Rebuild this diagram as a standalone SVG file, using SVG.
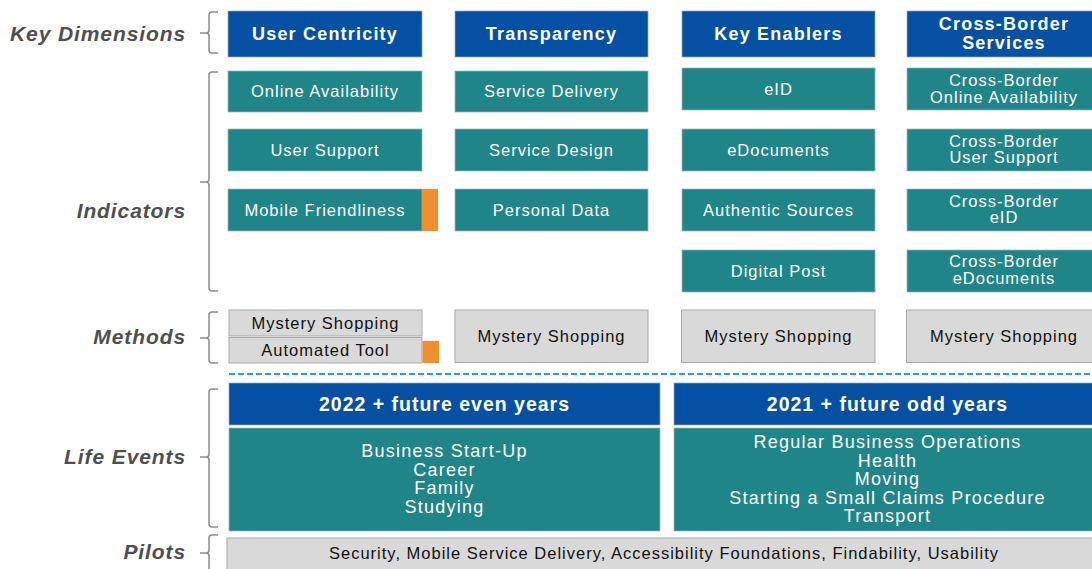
<svg xmlns="http://www.w3.org/2000/svg" width="1092" height="569" viewBox="0 0 1092 569">
<style>
.bg{fill:#ffffff}
.blue{fill:#0550A3;stroke:#9aa7b8;stroke-width:0.75}
.teal{fill:#1F8588;stroke:#9fb3b3;stroke-width:0.75}
.gray{fill:#D9D9D9;stroke:#A9A9A9;stroke-width:1}
.orange{fill:#EF8F2F}
.lbl{font-family:"Liberation Sans",Arial,sans-serif;font-weight:bold;font-style:italic;font-size:21px;fill:#4F4F4F;text-anchor:end;letter-spacing:0.9px}
.kd{font-family:"Liberation Sans",Arial,sans-serif;font-weight:bold;font-size:18px;fill:#ffffff;text-anchor:middle;letter-spacing:1.2px}
.leh{font-family:"Liberation Sans",Arial,sans-serif;font-weight:bold;font-size:19.5px;fill:#ffffff;text-anchor:middle;letter-spacing:1px}
.ind{font-family:"Liberation Sans",Arial,sans-serif;font-size:16.5px;fill:#ffffff;text-anchor:middle;letter-spacing:1px}
.meth{font-family:"Liberation Sans",Arial,sans-serif;font-size:16.5px;fill:#111111;text-anchor:middle;letter-spacing:1px}
.le{font-family:"Liberation Sans",Arial,sans-serif;font-size:18px;fill:#ffffff;text-anchor:middle;letter-spacing:1.25px}
.brk{fill:none;stroke:#8C8C8C;stroke-width:1.5}
.dash{stroke:#2A9FCC;stroke-width:2;stroke-dasharray:6 3}
</style>
<rect class="bg" x="0" y="0" width="1092" height="569"/>

<g id="labels">
<text class="lbl" x="186" y="41">Key Dimensions</text>
<text class="lbl" x="186" y="218">Indicators</text>
<text class="lbl" x="186" y="344">Methods</text>
<text class="lbl" x="186" y="464">Life Events</text>
<text class="lbl" x="186" y="559">Pilots</text>
</g>

<g id="brackets">
<path class="brk" d="M218,12 H212 Q209,12 209,15 V30 Q209,33 206,33 H200 M206,33 Q209,33 209,36 V50 Q209,53 212,53 H218"/>
<path class="brk" d="M218,72 H212 Q209,72 209,75 V179 Q209,182 206,182 H200 M206,182 Q209,182 209,185 V288 Q209,291 212,291 H218"/>
<path class="brk" d="M218,312 H212 Q209,312 209,315 V335 Q209,338 206,338 H200 M206,338 Q209,338 209,341 V360 Q209,363 212,363 H218"/>
<path class="brk" d="M218,389 H212 Q209,389 209,392 V454 Q209,457 206,457 H200 M206,457 Q209,457 209,460 V524 Q209,527 212,527 H218"/>
<path class="brk" d="M218,535 H212 Q209,535 209,538 V550 Q209,553 206,553 H200 M206,553 Q209,553 209,556 V575"/>
</g>

<g id="key-dimensions">
<g id="kd-user-centricity"><rect class="blue" x="228" y="11" width="194" height="46"/><text class="kd" x="325" y="39.5">User Centricity</text></g>
<g id="kd-transparency"><rect class="blue" x="455" y="11" width="193" height="46"/><text class="kd" x="551.5" y="39.5">Transparency</text></g>
<g id="kd-key-enablers"><rect class="blue" x="682" y="11" width="193" height="46"/><text class="kd" x="778.5" y="39.5">Key Enablers</text></g>
<g id="kd-cross-border"><rect class="blue" x="907" y="11" width="194" height="46"/><text class="kd" x="1004" y="29.5">Cross-Border</text><text class="kd" x="1004" y="48.5">Services</text></g>
</g>

<g id="indicators">
<g id="ind-online-availability"><rect class="teal" x="228" y="71" width="194" height="41"/><text class="ind" x="325" y="97">Online Availability</text></g>
<g id="ind-user-support"><rect class="teal" x="228" y="129" width="194" height="42"/><text class="ind" x="325" y="156">User Support</text></g>
<g id="ind-mobile-friendliness"><rect class="teal" x="228" y="189" width="194" height="42"/><rect class="orange" x="422" y="189" width="16" height="42"/><text class="ind" x="325" y="216">Mobile Friendliness</text></g>

<g id="ind-service-delivery"><rect class="teal" x="455" y="71" width="193" height="41"/><text class="ind" x="551.5" y="97">Service Delivery</text></g>
<g id="ind-service-design"><rect class="teal" x="455" y="129" width="193" height="42"/><text class="ind" x="551.5" y="156">Service Design</text></g>
<g id="ind-personal-data"><rect class="teal" x="455" y="189" width="193" height="42"/><text class="ind" x="551.5" y="216">Personal Data</text></g>

<g id="ind-eid"><rect class="teal" x="682" y="68" width="193" height="42"/><text class="ind" x="778.5" y="95">eID</text></g>
<g id="ind-edocuments"><rect class="teal" x="682" y="129" width="193" height="42"/><text class="ind" x="778.5" y="156">eDocuments</text></g>
<g id="ind-authentic-sources"><rect class="teal" x="682" y="189" width="193" height="42"/><text class="ind" x="778.5" y="216">Authentic Sources</text></g>
<g id="ind-digital-post"><rect class="teal" x="682" y="250" width="193" height="42"/><text class="ind" x="778.5" y="277">Digital Post</text></g>

<g id="ind-cb-online"><rect class="teal" x="907" y="68" width="194" height="42"/><text class="ind" x="1004" y="86">Cross-Border</text><text class="ind" x="1004" y="102.5">Online Availability</text></g>
<g id="ind-cb-user-support"><rect class="teal" x="907" y="129" width="194" height="42"/><text class="ind" x="1004" y="146.5">Cross-Border</text><text class="ind" x="1004" y="163">User Support</text></g>
<g id="ind-cb-eid"><rect class="teal" x="907" y="189" width="194" height="42"/><text class="ind" x="1004" y="206.5">Cross-Border</text><text class="ind" x="1004" y="223">eID</text></g>
<g id="ind-cb-edocuments"><rect class="teal" x="907" y="250" width="194" height="42"/><text class="ind" x="1004" y="267">Cross-Border</text><text class="ind" x="1004" y="283.5">eDocuments</text></g>
</g>

<g id="methods">
<g id="m-col1-mystery"><rect class="gray" x="229" y="310" width="193" height="26"/><text class="meth" x="325.5" y="328.5">Mystery Shopping</text></g>
<g id="m-col1-automated"><rect class="gray" x="229" y="337.5" width="193" height="25.5"/><rect class="orange" x="422.5" y="341" width="16.5" height="22"/><text class="meth" x="325.5" y="356">Automated Tool</text></g>
<g id="m-col2"><rect class="gray" x="455" y="310" width="193" height="52.5"/><text class="meth" x="551.5" y="342">Mystery Shopping</text></g>
<g id="m-col3"><rect class="gray" x="681.5" y="310" width="193.5" height="52.5"/><text class="meth" x="778.5" y="342">Mystery Shopping</text></g>
<g id="m-col4"><rect class="gray" x="906.5" y="310" width="194" height="52.5"/><text class="meth" x="1004" y="342">Mystery Shopping</text></g>
</g>

<g id="connectors">
<line class="dash" x1="229" y1="374" x2="1092" y2="374"/>
</g>

<g id="life-events">
<g id="le-even"><rect class="blue" x="229" y="383" width="431" height="42"/><text class="leh" x="444.5" y="411">2022 + future even years</text>
<rect class="teal" x="229" y="428" width="431" height="103"/>
<text class="le" x="444.5" y="457">Business Start-Up</text>
<text class="le" x="444.5" y="475.5">Career</text>
<text class="le" x="444.5" y="494">Family</text>
<text class="le" x="444.5" y="512.5">Studying</text></g>
<g id="le-odd"><rect class="blue" x="674" y="383" width="427" height="42"/><text class="leh" x="887.5" y="411">2021 + future odd years</text>
<rect class="teal" x="674" y="428" width="427" height="103"/>
<text class="le" x="887.5" y="448">Regular Business Operations</text>
<text class="le" x="887.5" y="466.5">Health</text>
<text class="le" x="887.5" y="485">Moving</text>
<text class="le" x="887.5" y="503.5">Starting a Small Claims Procedure</text>
<text class="le" x="887.5" y="522">Transport</text></g>
</g>

<g id="pilots">
<rect class="gray" x="227" y="538" width="880" height="40"/>
<text class="meth" x="664" y="559">Security, Mobile Service Delivery, Accessibility Foundations, Findability, Usability</text>
</g>
</svg>
